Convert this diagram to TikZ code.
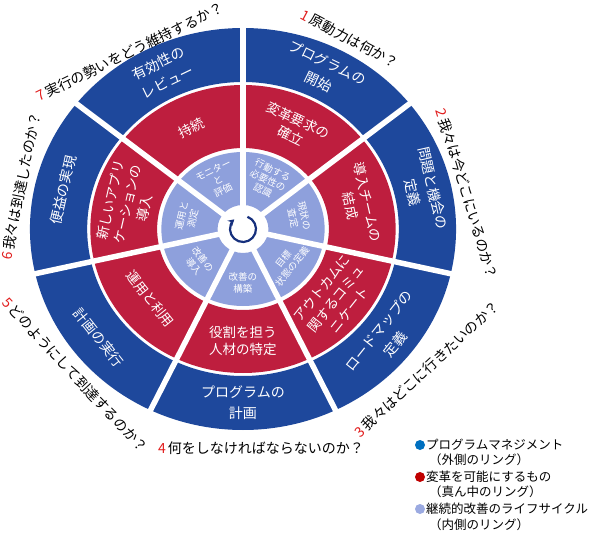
\documentclass[tikz,border=0pt]{standalone}
\usepackage{fontspec}
\setmainfont{Noto Sans CJK JP}
\usetikzlibrary{arrows.meta}

\definecolor{ringblue}{RGB}{30,72,156}
\definecolor{ringred}{RGB}{190,30,62}
\definecolor{ringlight}{RGB}{142,160,220}
\definecolor{arrownavy}{RGB}{22,48,125}
\definecolor{numred}{RGB}{225,30,30}
\definecolor{dotblue}{RGB}{0,112,192}
\definecolor{dotred}{RGB}{192,0,0}
\definecolor{dotlight}{RGB}{155,170,225}

\tikzset{
    outerlabel/.style={text=white, align=center, inner sep=0pt,
        font=\fontsize{14}{21}\selectfont},
    midlabel/.style={text=white, align=center, inner sep=0pt,
        font=\fontsize{13.5}{17.5}\selectfont},
    innerlabel/.style={text=white, align=center, inner sep=0pt,
        font=\fontsize{9.5}{11.5}\selectfont},
    question/.style={inner sep=0pt, font=\fontsize{14}{16}\selectfont},
    legtext/.style={anchor=west, inner sep=0pt, font=\fontsize{12.5}{14}\selectfont},
    legenddot/.style={circle, inner sep=0pt, minimum size=10pt}
}
\newcommand{\qnum}[1]{{\color{numred}#1}\kern2pt}

\begin{document}
\begin{tikzpicture}[x=1pt,y=1pt]
\useasboundingbox (-243,-304) rectangle (354,229);

\begin{scope}[xscale=1.06]
    \fill[ringblue, even odd rule] (0,0) circle[radius=201] (0,0) circle[radius=147];
    \fill[ringred, even odd rule] (0,0) circle[radius=144] (0,0) circle[radius=81];
    \fill[ringlight, even odd rule] (0,0) circle[radius=77] (0,0) circle[radius=24];
    \foreach \k in {0,...,6}
        \draw[white, line width=5.5pt] ({90+51.4286*\k}:20) -- ({90+51.4286*\k}:205);

    \foreach \a/\r/\outer/\mid/\inner [count=\k] in {
        64.29/-25.71/{プログラムの\\開始}/{変革要求の\\確立}/{行動する\\必要性の\\認識},
        12.86/-77.14/{問題と機会の\\定義}/{導入チームの\\結成}/{現状の\\査定},
        -38.57/51.43/{ロードマップの\\定義}/{アウトカムに\\関するコミュ\\ニケート}/{目標\\状態の定義},
        -90/0/{プログラムの\\計画}/{役割を担う\\人材の特定}/{改善の\\構築},
        -141.43/-51.43/{計画の実行}/{運用と利用}/{改善の\\導入},
        167.14/77.14/{便益の実現}/{新しいアプリ\\ケーションの\\導入}/{運用と\\測定},
        115.71/25.71/{有効性の\\レビュー}/{持続}/{モニター\\と\\評価}}
    {
        \node[outerlabel, rotate=\r] (outer\k) at (\a:174) {\outer};
        \node[midlabel, rotate=\r] (mid\k) at (\a:112) {\mid};
        \node[innerlabel, rotate=\r] (inner\k) at (\a:54) {\inner};
    }
\end{scope}

\draw[arrownavy, line width=2.2pt, -{Stealth[length=6pt,width=7pt]}]
    (70:13) arc[start angle=70, end angle=-228, radius=13];

\node[question, rotate=-28] (q1) at (107,190) {\qnum{1}原動力は何か？};
\node[question, rotate=-73] (q2) at (224,35) {\qnum{2}我々は今どこにいるのか？};
\node[question, rotate=43] (q3) at (184,-140) {\qnum{3}我々はどこに行きたいのか？};
\node[question] (q4) at (18,-219) {\qnum{4}何をしなければならないのか？};
\node[question, rotate=-47] (q5) at (-168,-146) {\qnum{5}どのようにして到達するのか？};
\node[question, rotate=78.5] (q6) at (-222,43) {\qnum{6}我々は到達したのか？};
\node[question, rotate=26] (q7) at (-113,177) {\qnum{7}実行の勢いをどう維持するか？};

\node[legenddot, fill=dotblue] (dot1) at (177,-216) {};
\node[legtext] (leg1) at (183,-216) {プログラムマネジメント};
\node[legtext] (leg1sub) at (186,-231) {（外側のリング）};
\node[legenddot, fill=dotred] (dot2) at (177,-248) {};
\node[legtext] (leg2) at (183,-248) {変革を可能にするもの};
\node[legtext] (leg2sub) at (186,-263) {（真ん中のリング）};
\node[legenddot, fill=dotlight] (dot3) at (177,-280) {};
\node[legtext] (leg3) at (183,-280) {継続的改善のライフサイクル};
\node[legtext] (leg3sub) at (186,-296) {（内側のリング）};
\end{tikzpicture}
\end{document}
